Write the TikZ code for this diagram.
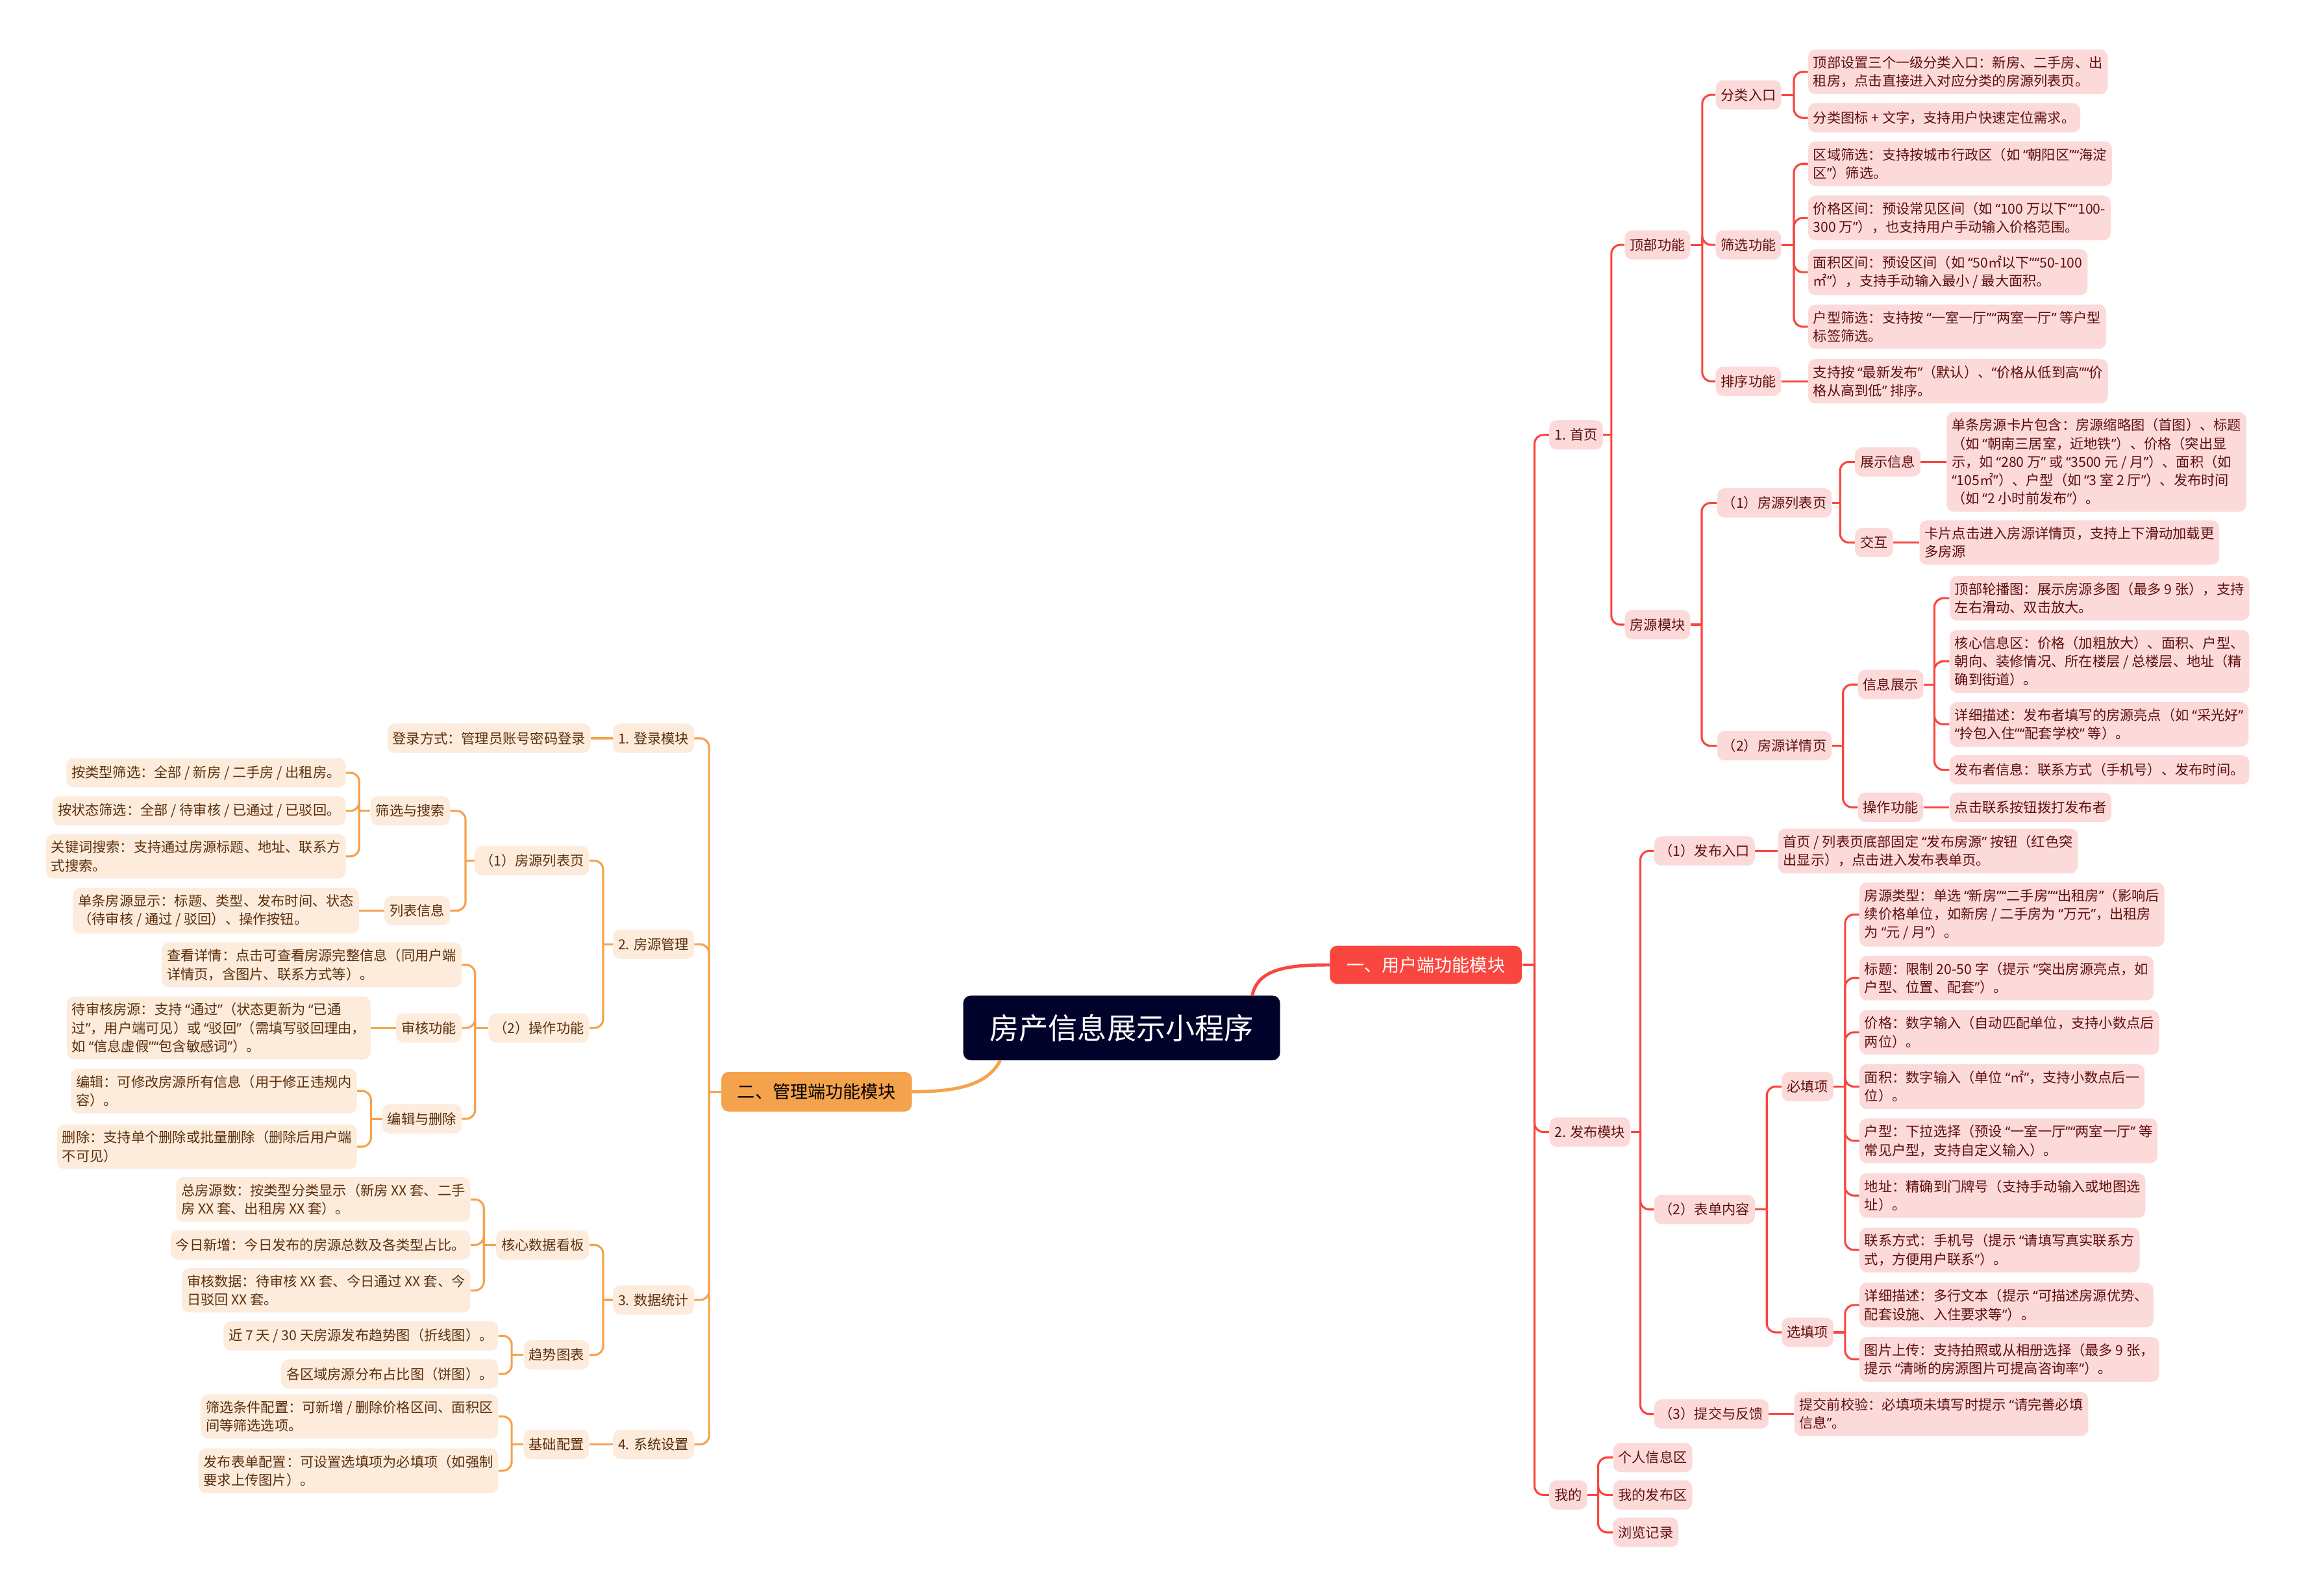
\documentclass[tikz,border=0pt]{standalone}
\usepackage{fontspec}
\setmainfont{Noto Sans CJK SC}
\newfontfamily\qfont{Noto Sans}
\begingroup
\catcode`“=\active \catcode`”=\active
\gdef“{{\qfont\char"201C\relax}}
\gdef”{{\qfont\char"201D\relax}}
\endgroup
\AtBeginDocument{\catcode`“=\active \catcode`”=\active}
\definecolor{rootblue}{HTML}{000229}
\definecolor{ured}{HTML}{F9463F}
\definecolor{upink}{HTML}{FDDADA}
\definecolor{utext}{HTML}{5E0F0F}
\definecolor{morange}{HTML}{F5A24C}
\definecolor{mcream}{HTML}{FDEBDC}
\definecolor{mtext}{HTML}{5A300C}
\tikzset{
  ubox/.style={fill=upink, text=utext, rounded corners=5pt, inner xsep=3.5pt, inner ysep=4.5pt, minimum height=20pt, align=left, font=\fontsize{9.4pt}{12.5pt}\selectfont},
  mbox/.style={fill=mcream, text=mtext, rounded corners=5pt, inner xsep=3.5pt, inner ysep=4.5pt, minimum height=20pt, align=left, font=\fontsize{9.4pt}{12.5pt}\selectfont},
  uline/.style={ured, line width=1.4pt, rounded corners=6pt},
  mline/.style={morange, line width=1.4pt, rounded corners=6pt},
}
\begin{document}
\begin{tikzpicture}[x=1pt, y=-1pt]
\useasboundingbox (0,0) rectangle (1568,1088);
% centre
\node[fill=rootblue, text=white, rounded corners=5pt, minimum width=216pt, minimum height=44pt, font=\fontsize{20pt}{24pt}\selectfont] (root) at (765,701) {房产信息展示小程序};
\node[fill=ured, text=white, rounded corners=5pt, minimum width=131pt, minimum height=26pt, font=\fontsize{12pt}{14pt}\selectfont] (u) at (972.5,658) {一、用户端功能模块};
\node[fill=morange, text=black, rounded corners=5pt, minimum width=130pt, minimum height=27pt, font=\fontsize{12pt}{14pt}\selectfont] (m) at (557,744.5) {二、管理端功能模块};
\draw[ured, line width=2.2pt] (root.14.5) .. controls (858,661) and (877,658) .. (u.west);
\draw[morange, line width=2.2pt] (root.195) .. controls (673,741) and (650,744.5) .. (m.east);

% user side
\node[ubox, anchor=west] (u1) at (1056.5,296.6) {1. 首页};
\node[ubox, anchor=west] (u2) at (1056.5,772) {2. 发布模块};
\node[ubox, anchor=west] (u3) at (1056.5,1019.5) {我的};
\coordinate (uj) at (1046.6,658);
\draw[uline] (u.east) -- (uj);
\draw[uline] (uj) |- (u1.west);
\draw[uline] (uj) |- (u2.west);
\draw[uline] (uj) |- (u3.west);

\node[ubox, anchor=west] (u11) at (1108,167) {顶部功能};
\node[ubox, anchor=west] (u12) at (1108,426) {房源模块};
\coordinate (u1j) at (1099,296.6);
\draw[uline] (u1.east) -- (u1j);
\draw[uline] (u1j) |- (u11.west);
\draw[uline] (u1j) |- (u12.west);

\node[ubox, anchor=west] (u111) at (1170,64.7) {分类入口};
\node[ubox, anchor=west] (u112) at (1170,167) {筛选功能};
\node[ubox, anchor=west] (u113) at (1170,260) {排序功能};
\coordinate (u11j) at (1161,167);
\draw[uline] (u11.east) -- (u11j);
\draw[uline] (u11j) |- (u111.west);
\draw[uline] (u11j) |- (u112.west);
\draw[uline] (u11j) |- (u113.west);

\node[ubox, anchor=west] (u1111) at (1233,49) {顶部设置三个一级分类入口：新房、二手房、出\\租房，点击直接进入对应分类的房源列表页。};
\node[ubox, anchor=west] (u1112) at (1233,80.3) {分类图标 + 文字，支持用户快速定位需求。};
\coordinate (u111j) at (1223.5,64.7);
\draw[uline] (u111.east) -- (u111j);
\draw[uline] (u111j) |- (u1111.west);
\draw[uline] (u111j) |- (u1112.west);

\node[ubox, anchor=west] (u1121) at (1233,111.7) {区域筛选：支持按城市行政区（如 “朝阳区”“海淀\\区”）筛选。};
\node[ubox, anchor=west] (u1122) at (1233,148.6) {价格区间：预设常见区间（如 “100 万以下”“100-\\300 万”），也支持用户手动输入价格范围。};
\node[ubox, anchor=west] (u1123) at (1233,185.6) {面积区间：预设区间（如 “50㎡以下”“50-100\\㎡”），支持手动输入最小 / 最大面积。};
\node[ubox, anchor=west] (u1124) at (1233,222.8) {户型筛选：支持按 “一室一厅”“两室一厅” 等户型\\标签筛选。};
\coordinate (u112j) at (1223.5,167);
\draw[uline] (u112.east) -- (u112j);
\draw[uline] (u112j) |- (u1121.west);
\draw[uline] (u112j) |- (u1122.west);
\draw[uline] (u112j) |- (u1123.west);
\draw[uline] (u112j) |- (u1124.west);

\node[ubox, anchor=west] (u1131) at (1233,260) {支持按 “最新发布”（默认）、“价格从低到高”“价\\格从高到低” 排序。};
\draw[uline] (u113.east) -- (u1131.west);

\node[ubox, anchor=west] (u121) at (1171,343) {（1）房源列表页};
\node[ubox, anchor=west] (u122) at (1171,508.6) {（2）房源详情页};
\coordinate (u12j) at (1160.6,426);
\draw[uline] (u12.east) -- (u12j);
\draw[uline] (u12j) |- (u121.west);
\draw[uline] (u12j) |- (u122.west);

\node[ubox, anchor=west] (u1211) at (1265,315) {展示信息};
\node[ubox, anchor=west] (u1212) at (1265,370) {交互};
\coordinate (u121j) at (1255,343);
\draw[uline] (u121.east) -- (u121j);
\draw[uline] (u121j) |- (u1211.west);
\draw[uline] (u121j) |- (u1212.west);
\node[ubox, anchor=west] (u12111) at (1327.5,315) {单条房源卡片包含：房源缩略图（首图）、标题\\（如 “朝南三居室，近地铁”）、价格（突出显\\示，如 “280 万” 或 “3500 元 / 月”）、面积（如\\“105㎡”）、户型（如 “3 室 2 厅”）、发布时间\\（如 “2 小时前发布”）。};
\draw[uline] (u1211.east) -- (u12111.west);
\node[ubox, anchor=west] (u12121) at (1309,370) {卡片点击进入房源详情页，支持上下滑动加载更\\多房源};
\draw[uline] (u1212.east) -- (u12121.west);

\node[ubox, anchor=west] (u1221) at (1267,466.8) {信息展示};
\node[ubox, anchor=west] (u1222) at (1267,550.5) {操作功能};
\coordinate (u122j) at (1257,508.6);
\draw[uline] (u122.east) -- (u122j);
\draw[uline] (u122j) |- (u1221.west);
\draw[uline] (u122j) |- (u1222.west);
\node[ubox, anchor=west] (u12211) at (1329.5,408) {顶部轮播图：展示房源多图（最多 9 张），支持\\左右滑动、双击放大。};
\node[ubox, anchor=west] (u12212) at (1329.5,451) {核心信息区：价格（加粗放大）、面积、户型、\\朝向、装修情况、所在楼层 / 总楼层、地址（精\\确到街道）。};
\node[ubox, anchor=west] (u12213) at (1329.5,494) {详细描述：发布者填写的房源亮点（如 “采光好”\\“拎包入住”“配套学校” 等）。};
\node[ubox, anchor=west] (u12214) at (1329.5,525) {发布者信息：联系方式（手机号）、发布时间。};
\coordinate (u1221j) at (1319.3,466.8);
\draw[uline] (u1221.east) -- (u1221j);
\draw[uline] (u1221j) |- (u12211.west);
\draw[uline] (u1221j) |- (u12212.west);
\draw[uline] (u1221j) |- (u12213.west);
\draw[uline] (u1221j) |- (u12214.west);
\node[ubox, anchor=west] (u12221) at (1329.5,550.5) {点击联系按钮拨打发布者};
\draw[uline] (u1222.east) -- (u12221.west);

\node[ubox, anchor=west] (u21) at (1128,580.3) {（1）发布入口};
\node[ubox, anchor=west] (u22) at (1128,824.8) {（2）表单内容};
\node[ubox, anchor=west] (u23) at (1128,964.3) {（3）提交与反馈};
\coordinate (u2j) at (1118.8,772);
\draw[uline] (u2.east) -- (u2j);
\draw[uline] (u2j) |- (u21.west);
\draw[uline] (u2j) |- (u22.west);
\draw[uline] (u2j) |- (u23.west);
\node[ubox, anchor=west] (u211) at (1212.5,580.3) {首页 / 列表页底部固定 “发布房源” 按钮（红色突\\出显示），点击进入发布表单页。};
\draw[uline] (u21.east) -- (u211.west);

\node[ubox, anchor=west] (u221) at (1215,741) {必填项};
\node[ubox, anchor=west] (u222) at (1215,908.6) {选填项};
\coordinate (u22j) at (1205,824.8);
\draw[uline] (u22.east) -- (u22j);
\draw[uline] (u22j) |- (u221.west);
\draw[uline] (u22j) |- (u222.west);
\node[ubox, anchor=west] (u2211) at (1268,623.7) {房源类型：单选 “新房”“二手房”“出租房”（影响后\\续价格单位，如新房 / 二手房为 “万元”，出租房\\为 “元 / 月”）。};
\node[ubox, anchor=west] (u2212) at (1268,667) {标题：限制 20-50 字（提示 “突出房源亮点，如\\户型、位置、配套”）。};
\node[ubox, anchor=west] (u2213) at (1268,704) {价格：数字输入（自动匹配单位，支持小数点后\\两位）。};
\node[ubox, anchor=west] (u2214) at (1268,741) {面积：数字输入（单位 “㎡”，支持小数点后一\\位）。};
\node[ubox, anchor=west] (u2215) at (1268,778) {户型：下拉选择（预设 “一室一厅”“两室一厅” 等\\常见户型，支持自定义输入）。};
\node[ubox, anchor=west] (u2216) at (1268,815.3) {地址：精确到门牌号（支持手动输入或地图选\\址）。};
\node[ubox, anchor=west] (u2217) at (1268,852.4) {联系方式：手机号（提示 “请填写真实联系方\\式，方便用户联系”）。};
\coordinate (u221j) at (1258.4,741);
\draw[uline] (u221.east) -- (u221j);
\draw[uline] (u221j) |- (u2211.west);
\draw[uline] (u221j) |- (u2212.west);
\draw[uline] (u221j) |- (u2213.west);
\draw[uline] (u221j) |- (u2214.west);
\draw[uline] (u221j) |- (u2215.west);
\draw[uline] (u221j) |- (u2216.west);
\draw[uline] (u221j) |- (u2217.west);
\node[ubox, anchor=west] (u2221) at (1268,890) {详细描述：多行文本（提示 “可描述房源优势、\\配套设施、入住要求等”）。};
\node[ubox, anchor=west] (u2222) at (1268,927) {图片上传：支持拍照或从相册选择（最多 9 张，\\提示 “清晰的房源图片可提高咨询率”）。};
\coordinate (u222j) at (1258.4,908.6);
\draw[uline] (u222.east) -- (u222j);
\draw[uline] (u222j) |- (u2221.west);
\draw[uline] (u222j) |- (u2222.west);
\node[ubox, anchor=west] (u231) at (1223.5,964.3) {提交前校验：必填项未填写时提示 “请完善必填\\信息”。};
\draw[uline] (u23.east) -- (u231.west);

\node[ubox, anchor=west] (u31) at (1100,994) {个人信息区};
\node[ubox, anchor=west] (u32) at (1100,1019.5) {我的发布区};
\node[ubox, anchor=west] (u33) at (1100,1045) {浏览记录};
\coordinate (u3j) at (1090,1019.5);
\draw[uline] (u3.east) -- (u3j);
\draw[uline] (u3j) |- (u31.west);
\draw[uline] (u3j) |- (u32.west);
\draw[uline] (u3j) |- (u33.west);

% manager side
\node[mbox, anchor=east] (m1) at (473.5,503.5) {1. 登录模块};
\node[mbox, anchor=east] (m2) at (473.5,644) {2. 房源管理};
\node[mbox, anchor=east] (m3) at (473.5,886.5) {3. 数据统计};
\node[mbox, anchor=east] (m4) at (473.5,985) {4. 系统设置};
\coordinate (mj) at (483.6,744.5);
\draw[mline] (m.west) -- (mj);
\draw[mline] (mj) |- (m1.east);
\draw[mline] (mj) |- (m2.east);
\draw[mline] (mj) |- (m3.east);
\draw[mline] (mj) |- (m4.east);

\node[mbox, anchor=east] (m11) at (403,503.5) {登录方式：管理员账号密码登录};
\draw[mline] (m1.west) -- (m11.east);

\node[mbox, anchor=east] (m21) at (402,587) {（1）房源列表页};
\node[mbox, anchor=east] (m22) at (402,701) {（2）操作功能};
\coordinate (m2j) at (411.4,644);
\draw[mline] (m2.west) -- (m2j);
\draw[mline] (m2j) |- (m21.east);
\draw[mline] (m2j) |- (m22.east);

\node[mbox, anchor=east] (m211) at (307,553) {筛选与搜索};
\node[mbox, anchor=east] (m212) at (307,621) {列表信息};
\coordinate (m21j) at (317.5,587);
\draw[mline] (m21.west) -- (m21j);
\draw[mline] (m21j) |- (m211.east);
\draw[mline] (m21j) |- (m212.east);
\node[mbox, anchor=east] (m2111) at (236,527) {按类型筛选：全部 / 新房 / 二手房 / 出租房。};
\node[mbox, anchor=east] (m2112) at (236,553) {按状态筛选：全部 / 待审核 / 已通过 / 已驳回。};
\node[mbox, anchor=east] (m2113) at (236,584) {关键词搜索：支持通过房源标题、地址、联系方\\式搜索。};
\coordinate (m211j) at (245,553);
\draw[mline] (m211.west) -- (m211j);
\draw[mline] (m211j) |- (m2111.east);
\draw[mline] (m211j) |- (m2112.east);
\draw[mline] (m211j) |- (m2113.east);
\node[mbox, anchor=east] (m2121) at (245,621) {单条房源显示：标题、类型、发布时间、状态\\（待审核 / 通过 / 驳回）、操作按钮。};
\draw[mline] (m212.west) -- (m2121.east);

\node[mbox, anchor=east] (m220) at (315,658) {查看详情：点击可查看房源完整信息（同用户端\\详情页，含图片、联系方式等）。};
\node[mbox, anchor=east] (m221) at (315,701) {审核功能};
\node[mbox, anchor=east] (m222) at (315,763) {编辑与删除};
\coordinate (m22j) at (324,701);
\draw[mline] (m22.west) -- (m22j);
\draw[mline] (m22j) |- (m220.east);
\draw[mline] (m22j) |- (m221.east);
\draw[mline] (m22j) |- (m222.east);
\node[mbox, anchor=east] (m2211) at (253,701) {待审核房源：支持 “通过”（状态更新为 “已通\\过”，用户端可见）或 “驳回”（需填写驳回理由，\\如 “信息虚假”“包含敏感词”）。};
\draw[mline] (m221.west) -- (m2211.east);
\node[mbox, anchor=east] (m2221) at (243.6,744) {编辑：可修改房源所有信息（用于修正违规内\\容）。};
\node[mbox, anchor=east] (m2222) at (243.6,782) {删除：支持单个删除或批量删除（删除后用户端\\不可见）};
\coordinate (m222j) at (253,763);
\draw[mline] (m222.west) -- (m222j);
\draw[mline] (m222j) |- (m2221.east);
\draw[mline] (m222j) |- (m2222.east);

\node[mbox, anchor=east] (m31) at (402,849) {核心数据看板};
\node[mbox, anchor=east] (m32) at (402,924) {趋势图表};
\coordinate (m3j) at (411.4,886.5);
\draw[mline] (m3.west) -- (m3j);
\draw[mline] (m3j) |- (m31.east);
\draw[mline] (m3j) |- (m32.east);
\node[mbox, anchor=east] (m311) at (321,818) {总房源数：按类型分类显示（新房 XX 套、二手\\房 XX 套、出租房 XX 套）。};
\node[mbox, anchor=east] (m312) at (321,849) {今日新增：今日发布的房源总数及各类型占比。};
\node[mbox, anchor=east] (m313) at (321,880) {审核数据：待审核 XX 套、今日通过 XX 套、今\\日驳回 XX 套。};
\coordinate (m31j) at (330,849);
\draw[mline] (m31.west) -- (m31j);
\draw[mline] (m31j) |- (m311.east);
\draw[mline] (m31j) |- (m312.east);
\draw[mline] (m31j) |- (m313.east);
\node[mbox, anchor=east] (m321) at (340,911) {近 7 天 / 30 天房源发布趋势图（折线图）。};
\node[mbox, anchor=east] (m322) at (340,937) {各区域房源分布占比图（饼图）。};
\coordinate (m32j) at (349,924);
\draw[mline] (m32.west) -- (m32j);
\draw[mline] (m32j) |- (m321.east);
\draw[mline] (m32j) |- (m322.east);

\node[mbox, anchor=east] (m41) at (402,985) {基础配置};
\draw[mline] (m4.west) -- (m41.east);
\node[mbox, anchor=east] (m411) at (340,966) {筛选条件配置：可新增 / 删除价格区间、面积区\\间等筛选选项。};
\node[mbox, anchor=east] (m412) at (340,1003) {发布表单配置：可设置选填项为必填项（如强制\\要求上传图片）。};
\coordinate (m41j) at (349,985);
\draw[mline] (m41.west) -- (m41j);
\draw[mline] (m41j) |- (m411.east);
\draw[mline] (m41j) |- (m412.east);
\end{tikzpicture}
\end{document}
